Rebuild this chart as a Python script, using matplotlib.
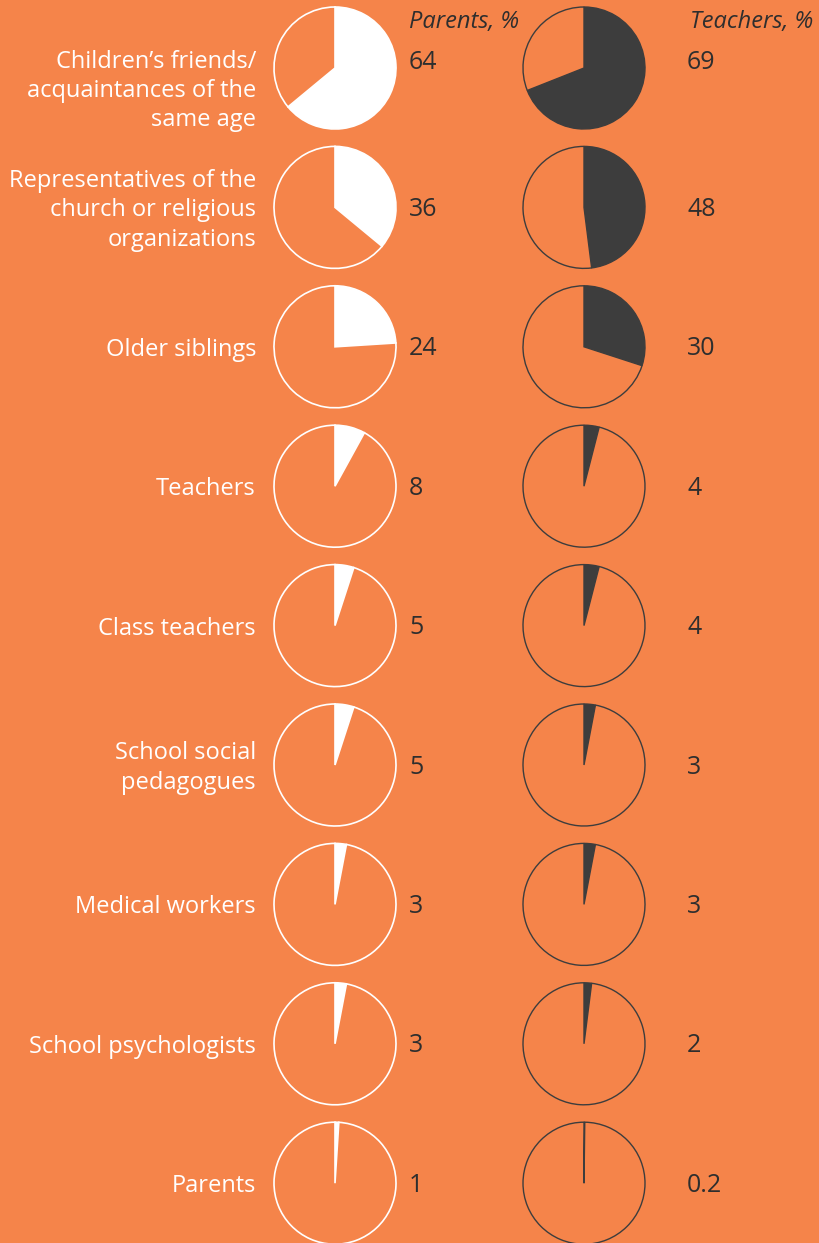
import matplotlib.pyplot as plt

# data
categories = [
    'Children\u2019s friends/\nacquaintances of the\nsame age',
    'Representatives of the\nchurch or religious\norganizations',
    'Older siblings',
    'Teachers',
    'Class teachers',
    'School social\npedagogues',
    'Medical workers',
    'School psychologists',
    'Parents',
]
parents = [64, 36, 24, 8, 5, 5, 3, 3, 1]
teachers = [69, 48, 30, 4, 4, 3, 3, 2, 0.2]
parents_labels = ['64', '36', '24', '8', '5', '5', '3', '3', '1']
teachers_labels = ['69', '48', '30', '4', '4', '3', '3', '2', '0.2']

# colours
bg = '#F5844A'
white = '#FFFFFF'
dark = '#3D3D3D'
txt = '#2E2E2E'

plt.rcParams['font.family'] = ['Open Sans', 'DejaVu Sans']

W, H = 819, 1243
fig = plt.figure(figsize=(W / 100, H / 100), dpi=100, facecolor=bg)
ax = fig.add_axes([0, 0, 1, 1])
ax.set_facecolor(bg)

# layout in pixels (y measured from top)
top_y = 68
step = 139.4
r = 61
px_parents = 335
px_teachers = 584

for i, cat in enumerate(categories):
    cy = H - (top_y + i * step)
    # parents pie
    ax.pie([parents[i], 100 - parents[i]], colors=[white, bg], startangle=90,
           counterclock=False, center=(px_parents, cy), radius=r, frame=True,
           wedgeprops=dict(edgecolor=white, linewidth=1.2))
    # teachers pie
    ax.pie([teachers[i], 100 - teachers[i]], colors=[dark, bg], startangle=90,
           counterclock=False, center=(px_teachers, cy), radius=r, frame=True,
           wedgeprops=dict(edgecolor=dark, linewidth=1.0))

    # category label
    ly = H - 91 if i == 0 else cy - 3
    ax.text(256, ly, cat, ha='right', va='center', color=white,
            fontsize=17, linespacing=1.3)

    vy = H - 62 if i == 0 else cy - 2
    ax.text(409, vy, parents_labels[i], ha='left', va='center', color=txt, fontsize=18)
    ax.text(687, vy, teachers_labels[i], ha='left', va='center', color=txt, fontsize=18)

# column headers
ax.text(409, H - 22, 'Parents, %', ha='left', va='center', color=txt,
        fontsize=17, style='italic')
ax.text(690, H - 22, 'Teachers, %', ha='left', va='center', color=txt,
        fontsize=17, style='italic')

ax.set_xlim(0, W)
ax.set_ylim(0, H)
ax.set_aspect('equal')
ax.axis('off')

fig.savefig('out.png', dpi=100, facecolor=bg)
